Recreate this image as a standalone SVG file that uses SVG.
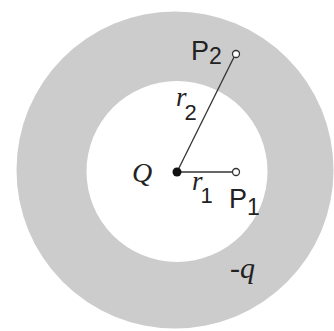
<svg xmlns="http://www.w3.org/2000/svg" width="334" height="331" viewBox="0 0 334 331">
<style>
.sans{font-family:"Liberation Sans",Arial,sans-serif;fill:#222}
.ital{font-family:"Liberation Serif","Times New Roman",serif;font-style:italic;fill:#222}
.sub{font-family:"Liberation Sans",Arial,sans-serif;font-style:normal}
.ln{stroke:#333;stroke-width:1.3;fill:none}
.pt{fill:#fff;stroke:#333;stroke-width:1.3}
</style>
<rect width="334" height="331" fill="#fff"/>
<g id="shell">
<circle cx="175" cy="170" r="158.5" fill="#cccccc"/>
<circle cx="177" cy="171.5" r="90.5" fill="#fff"/>
</g>
<g id="connectors">
<line class="ln" x1="177" y1="172" x2="236" y2="53"/>
<line class="ln" x1="177" y1="172" x2="236" y2="172"/>
</g>
<g id="Q">
<circle cx="177" cy="172" r="4.5" fill="#111"/>
<text class="ital" x="132" y="182" font-size="28">Q</text>
</g>
<g id="P1">
<circle class="pt" cx="236" cy="172" r="3.5"/>
<text class="sans" x="229" y="208" font-size="27">P<tspan font-size="23" dy="7">1</tspan></text>
</g>
<g id="P2">
<circle class="pt" cx="236" cy="54" r="3.5"/>
<text class="sans" x="191" y="60" font-size="27">P<tspan font-size="23" dy="4">2</tspan></text>
</g>
<g id="labels">
<text class="ital" x="176" y="106" font-size="27">r<tspan class="sub" font-size="22" dx="-2" dy="14">2</tspan></text>
<text class="ital" x="192" y="190" font-size="27">r<tspan class="sub" font-size="22" dx="-2" dy="13">1</tspan></text>
<text class="ital" x="230" y="278" font-size="30">-q</text>
</g>
</svg>
